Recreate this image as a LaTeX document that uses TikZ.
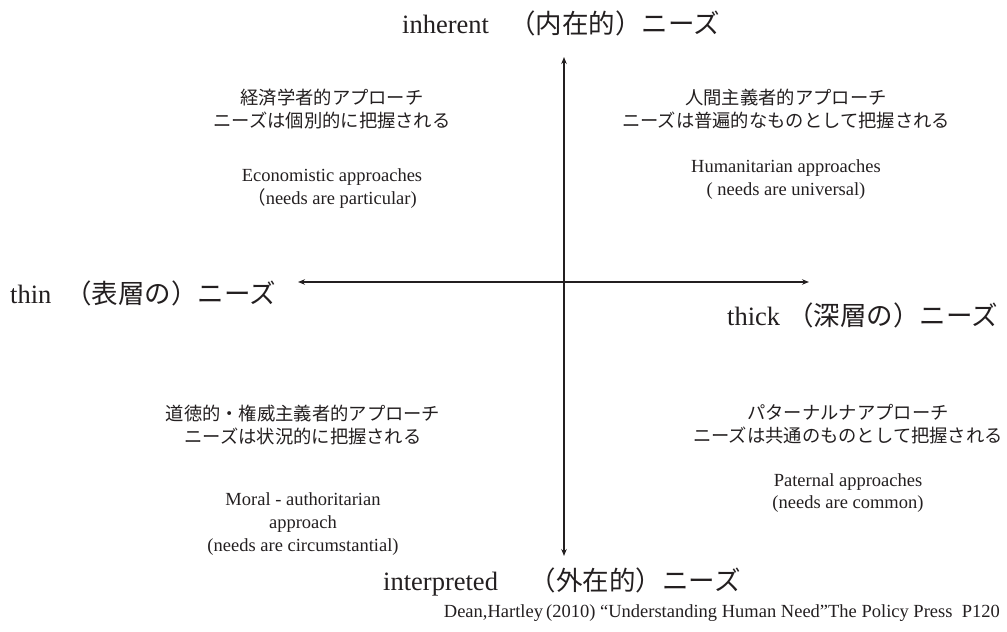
\documentclass[tikz,border=0pt]{standalone}
\usepackage{fontspec}
\setmainfont{Liberation Serif}
\newfontfamily\jp{Noto Sans CJK JP}
\usetikzlibrary{arrows.meta}
\definecolor{ink}{RGB}{35,31,32}
\begin{document}
\begin{tikzpicture}[x=1pt,y=-1pt,
  txt/.style={inner sep=0pt, anchor=base, text=ink, font=\fontsize{18.5}{22}\selectfont},
  jtxt/.style={txt, font=\jp\fontsize{18.3}{22}\selectfont},
  ttl/.style={inner sep=0pt, anchor=base west, text=ink, font=\fontsize{26.5}{30}\selectfont},
  axis/.style={draw=ink, line width=1.4pt, {Stealth[length=7pt,width=5.5pt]}-{Stealth[length=7pt,width=5.5pt]}}]
\useasboundingbox (0,0) rectangle (1007,632);
% axes
\coordinate (N) at (564,57);
\coordinate (S) at (564,556);
\coordinate (W) at (298,282);
\coordinate (E) at (809,282);
\draw[axis] (S) -- (N);
\draw[axis] (W) -- (E);
% axis titles
\node[ttl] (tN) at (402,33) {inherent\hspace{20pt}{\jp （内在的）ニーズ}};
\node[ttl] (tW) at (10,303) {thin\hspace{14pt}{\jp （表層の）ニーズ}};
\node[ttl] (tE) at (727,325) {thick\hspace{7pt}{\jp （深層の）ニーズ}};
\node[ttl] (tS) at (383,590) {interpreted\hspace{32pt}{\jp （外在的）ニーズ}};
% citation
\node[txt, anchor=base east] (cite) at (1000,617) {Dean,Hartley\,(2010)\ “Understanding Human Need”The Policy Press\ \ P120};
% top left
\node[jtxt] (a1) at (332,104) {経済学者的アプローチ};
\node[jtxt] (a2) at (332,127) {ニーズは個別的に把握される};
\node[txt] (a3) at (332,181) {Economistic approaches};
\node[txt] (a4) at (332,204) {{\jp （}needs are particular)};
% top right
\node[jtxt] (b1) at (786,104) {人間主義者的アプローチ};
\node[jtxt] (b2) at (786,127) {ニーズは普遍的なものとして把握される};
\node[txt] (b3) at (786,172) {Humanitarian approaches};
\node[txt] (b4) at (786,195) {(\ needs are universal)};
% bottom left
\node[jtxt] (c1) at (303,420) {道徳的・権威主義者的アプローチ};
\node[jtxt] (c2) at (303,443) {ニーズは状況的に把握される};
\node[txt] (c3) at (303,505) {Moral - authoritarian};
\node[txt] (c4) at (303,528) {approach};
\node[txt] (c5) at (303,551) {(needs are circumstantial)};
% bottom right
\node[jtxt] (d1) at (848,419) {パターナルナアプローチ};
\node[jtxt] (d2) at (848,442) {ニーズは共通のものとして把握される};
\node[txt] (d3) at (848,486) {Paternal approaches};
\node[txt] (d4) at (848,508) {(needs are common)};
\end{tikzpicture}
\end{document}
